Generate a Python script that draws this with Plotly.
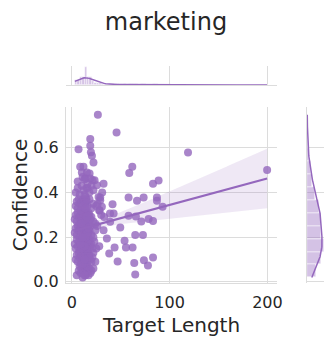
import numpy as np
import plotly.graph_objects as go

# scattered points away from the dense cluster
out_x = [26.6, 45.7, 6.8, 118.8, 199.7, 18.8, 18.8, 19.5, 20.5, 22.1,
         61.8, 58.7, 8.5, 11.9, 83.0, 88.7, 32.4, 58.0, 66.6, 73.4,
         87.0, 87.0, 29.0, 41.6, 42.7, 92.8, 58.0, 65.5, 71.0, 78.5,
         83.0, 49.5, 39.2, 32.4, 35.8, 64.8, 72.7, 53.9, 43.7, 55.3,
         62.1, 38.2, 46.8, 63.8, 73.7, 83.0, 77.8, 64.8, 26.3, 30.0,
         28.0, 33.0, 39.0, 15.4, 10.2, 18.1, 21.2, 13.7, 23.2, 18.8,
         25.6, 27.3, 29.0, 30.7, 28.3, 31.0]
out_y = [0.748, 0.669, 0.594, 0.579, 0.501, 0.640, 0.610, 0.580, 0.565, 0.534,
         0.516, 0.487, 0.516, 0.516, 0.439, 0.454, 0.439, 0.378, 0.363, 0.378,
         0.378, 0.363, 0.378, 0.348, 0.306, 0.336, 0.296, 0.293, 0.270, 0.281,
         0.273, 0.243, 0.269, 0.231, 0.194, 0.210, 0.210, 0.184, 0.154, 0.154,
         0.154, 0.127, 0.091, 0.085, 0.097, 0.109, 0.073, 0.033, 0.348, 0.300,
         0.320, 0.290, 0.306, 0.490, 0.490, 0.485, 0.455, 0.463, 0.455, 0.463,
         0.433, 0.380, 0.366, 0.336, 0.321, 0.400]

# dense cluster of short targets
clu_x = [5, 7, 8, 9, 10, 11, 12, 13, 14, 14, 15, 15, 16, 17, 18, 19, 20, 22, 13, 16,
         4, 5, 6, 7, 8, 9, 10, 11, 12, 13, 13, 14, 14, 15, 15, 16, 16, 17, 18, 19,
         20, 21, 22, 24, 12, 14, 15, 11, 17, 13,
         3, 4, 5, 6, 7, 8, 9, 10, 11, 12, 12, 13, 13, 14, 14, 15, 15, 16, 16, 17,
         17, 18, 19, 20, 21, 23, 25, 28, 13, 14, 15, 16, 12, 11, 10, 14, 15, 13, 18, 9,
         3, 4, 5, 6, 7, 8, 9, 10, 11, 12, 13, 13, 14, 14, 15, 15, 16, 16, 17, 18,
         19, 20, 22, 24, 26, 12, 14, 15, 13, 16, 11, 17,
         3, 4, 5, 6, 7, 8, 9, 10, 11, 12, 13, 14, 14, 15, 15, 16, 17, 18, 19, 20,
         22, 24, 13, 12, 14, 16, 11, 15, 10, 17,
         4, 5, 6, 7, 8, 9, 10, 11, 12, 13, 14, 15, 16, 18, 20, 22, 25, 13, 14, 15,
         4, 6, 8, 10, 12, 14, 16, 18, 20, 22, 13, 15,
         6, 11, 16, 13]
clu_y = [0.03, 0.05, 0.07, 0.04, 0.06, 0.02, 0.05, 0.07, 0.03, 0.06, 0.04, 0.07, 0.05, 0.03, 0.06, 0.04, 0.05, 0.06, 0.03, 0.07,
         0.10, 0.12, 0.09, 0.13, 0.11, 0.08, 0.12, 0.10, 0.13, 0.09, 0.11, 0.13, 0.08, 0.12, 0.10, 0.13, 0.09, 0.11, 0.12, 0.10,
         0.09, 0.11, 0.13, 0.09, 0.11, 0.12, 0.10, 0.08, 0.12, 0.10,
         0.17, 0.15, 0.19, 0.16, 0.18, 0.14, 0.17, 0.19, 0.15, 0.18, 0.16, 0.14, 0.19, 0.17, 0.15, 0.18, 0.16, 0.19, 0.14, 0.17,
         0.15, 0.18, 0.16, 0.17, 0.15, 0.18, 0.15, 0.16, 0.19, 0.17, 0.15, 0.18, 0.17, 0.16, 0.15, 0.19, 0.18, 0.16, 0.19, 0.17,
         0.22, 0.24, 0.21, 0.25, 0.23, 0.20, 0.24, 0.22, 0.25, 0.21, 0.23, 0.24, 0.20, 0.22, 0.25, 0.23, 0.21, 0.24, 0.22, 0.23,
         0.25, 0.21, 0.20, 0.23, 0.25, 0.24, 0.21, 0.23, 0.25, 0.22, 0.20, 0.24,
         0.28, 0.30, 0.27, 0.31, 0.29, 0.26, 0.30, 0.28, 0.31, 0.27, 0.29, 0.30, 0.26, 0.28, 0.31, 0.29, 0.27, 0.30, 0.28, 0.29,
         0.27, 0.26, 0.31, 0.29, 0.28, 0.30, 0.27, 0.29, 0.26, 0.31,
         0.34, 0.36, 0.33, 0.37, 0.35, 0.32, 0.36, 0.34, 0.37, 0.33, 0.35, 0.36, 0.34, 0.37, 0.33, 0.35, 0.34, 0.36, 0.33, 0.37,
         0.40, 0.42, 0.39, 0.43, 0.41, 0.38, 0.42, 0.40, 0.43, 0.41, 0.39, 0.42,
         0.45, 0.47, 0.44, 0.46]

title = "marketing"
xlabel = "Target Length"
ylabel = "Confidence"

PURPLE = "#9467bd"
x = np.array(out_x + clu_x, dtype=float)
y = np.array(out_y + clu_y, dtype=float)
n = len(x)

# linear fit and 95% confidence band
slope, icpt = np.polyfit(x, y, 1)
gx = np.linspace(x.min(), x.max(), 100)
gy = icpt + slope * gx
resid = y - (icpt + slope * x)
s = np.sqrt((resid ** 2).sum() / (n - 2))
sxx = ((x - x.mean()) ** 2).sum()
se = s * np.sqrt(1 / n + (gx - x.mean()) ** 2 / sxx)
lo, hi = gy - 1.96 * se, gy + 1.96 * se


def kde(vals, grid, binw):
    h = vals.std(ddof=1) * len(vals) ** (-0.2)
    d = np.exp(-0.5 * ((grid[:, None] - vals[None, :]) / h) ** 2).sum(1)
    return d / (h * np.sqrt(2 * np.pi)) * binw


xbin, ybin = 2.5, 0.058
kx = np.linspace(x.min(), x.max(), 200)
ky = np.linspace(y.min(), y.max(), 200)

fig = go.Figure()
fig.add_trace(go.Scatter(x=np.r_[gx, gx[::-1]], y=np.r_[hi, lo[::-1]], fill="toself",
                         fillcolor="rgba(148,103,189,0.15)", line=dict(width=0),
                         hoverinfo="skip", showlegend=False))
fig.add_trace(go.Scatter(x=x, y=y, mode="markers", showlegend=False,
                         marker=dict(color=PURPLE, opacity=0.8, size=8)))
fig.add_trace(go.Scatter(x=gx, y=gy, mode="lines", showlegend=False,
                         line=dict(color=PURPLE, width=2.2)))

# top marginal
fig.add_trace(go.Histogram(x=x, xbins=dict(start=x.min(), size=xbin), xaxis="x2", yaxis="y2",
                           marker=dict(color="rgba(148,103,189,0.4)",
                                       line=dict(color="white", width=0.5)),
                           showlegend=False))
fig.add_trace(go.Scatter(x=kx, y=kde(x, kx, xbin), xaxis="x2", yaxis="y2", mode="lines",
                         line=dict(color=PURPLE, width=1.5), showlegend=False))
# right marginal
fig.add_trace(go.Histogram(y=y, ybins=dict(start=y.min(), size=ybin), xaxis="x3", yaxis="y3",
                           marker=dict(color="rgba(148,103,189,0.4)",
                                       line=dict(color="white", width=0.5)),
                           showlegend=False))
fig.add_trace(go.Scatter(x=kde(y, ky, ybin), y=ky, xaxis="x3", yaxis="y3", mode="lines",
                         line=dict(color=PURPLE, width=1.5), showlegend=False))

# the page body adds an 8px margin, so the figure is drawn 8px in from the window
W, H = 324, 338
OFF = 8


def px_x(p):
    return (p - OFF) / W


def px_y(p):
    return (H - (p - OFF)) / H


xd = [px_x(66), px_x(277)]
yd = [px_y(283), px_y(107)]
grid = "#dcdcdc"
tick_font = dict(family="DejaVu Sans", size=16, color="#262626")
xr = [-6, 209.8]
yr = [-0.005, 0.783]

fig.update_layout(
    width=W, height=H, margin=dict(l=0, r=0, t=0, b=0),
    plot_bgcolor="white", paper_bgcolor="white", bargap=0,
    font=dict(family="DejaVu Sans", color="#262626"),
    title=dict(text=title, x=(166 - OFF) / W, xanchor="center", y=px_y(22), yanchor="middle",
               font=dict(size=24, color="#262626"), automargin=False),
    xaxis=dict(domain=xd, range=xr, tickvals=[0, 100, 200], showgrid=True, gridcolor=grid,
               zeroline=False, showline=True, linecolor=grid, linewidth=1.2, automargin=False,
               tickfont=tick_font, ticks="outside", ticklen=5, tickcolor="white",
               title=dict(text=xlabel, font=dict(size=20), standoff=6)),
    yaxis=dict(domain=yd, range=yr, tickvals=[0, 0.2, 0.4, 0.6], ticktext=["0.0", "0.2", "0.4", "0.6"],
               showgrid=True, gridcolor=grid, zeroline=False, showline=True, linecolor=grid,
               linewidth=1.2, tickfont=tick_font, ticks="outside", ticklen=3, tickcolor="white",
               automargin=False, title=dict(text=ylabel, font=dict(size=20), standoff=0)),
    xaxis2=dict(domain=xd, range=xr, anchor="y2", tickvals=[0, 100, 200], showticklabels=False,
                automargin=False, showgrid=True, gridcolor=grid, zeroline=False, showline=True,
                linecolor=grid, linewidth=1.2),
    yaxis2=dict(domain=[px_y(85), px_y(66)], anchor="x2", showticklabels=False,
                automargin=False, showgrid=False, zeroline=False, rangemode="tozero"),
    xaxis3=dict(domain=[px_x(307), px_x(325)], anchor="y3", showticklabels=False, showgrid=False,
                automargin=False, zeroline=False, rangemode="tozero"),
    yaxis3=dict(domain=yd, range=yr, anchor="x3", tickvals=[0, 0.2, 0.4, 0.6], showticklabels=False,
                automargin=False, showgrid=True, gridcolor=grid, zeroline=False, showline=True,
                linecolor=grid, linewidth=1.2),
)

fig.write_html("out.html")
